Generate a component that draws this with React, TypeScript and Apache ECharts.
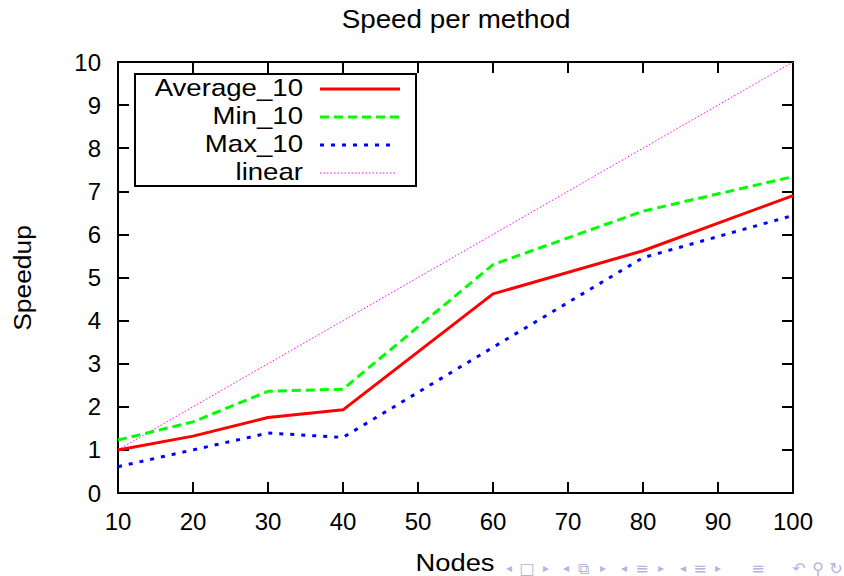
import React, { useEffect, useRef } from "react";
import * as echarts from "echarts";

const nodes = [10, 20, 30, 40, 60, 80, 100];
const average10 = [1.0, 1.32, 1.75, 1.93, 4.62, 5.62, 6.9];
const min10 = [1.23, 1.65, 2.36, 2.41, 5.3, 6.54, 7.34];
const max10 = [0.61, 1.0, 1.39, 1.29, 3.38, 5.46, 6.44];
const linearX = [10, 100];
const linearY = [1, 10];
const seriesNames = ["Average_10", "Min_10", "Max_10", "linear"];
const titleText = "Speed per method";
const xName = "Nodes";
const yName = "Speedup";
const navGlyphs = ["◂", "□", "▸", "◂", "⧉", "▸", "◂", "≡", "▸", "◂", "≡", "▸", "≡", "↶", "⚲", "↻"];

const FONT = "Liberation Sans, Arial, Helvetica, sans-serif";

export default function App() {
  const ref = useRef<HTMLDivElement>(null);
  useEffect(() => {
    if (!ref.current) return;
    const chart = echarts.init(ref.current, null, { renderer: "svg" });
    const pair = (xs: number[], ys: number[]) => xs.map((x, i) => [x, ys[i]]);
    const tick = { show: true, inside: true, length: 11, lineStyle: { color: "#000", width: 2 } };
    const axisLine = { show: true, onZero: false, lineStyle: { color: "#000", width: 2 } };
    const labelStyle = { color: "#000", fontSize: 24, fontFamily: FONT };
    const ly = [89, 117, 145, 173];
    const lx2 = [400, 400, 394, 397];
    const styles = [
      { stroke: "#ff0000", lineWidth: 3 },
      { stroke: "#00ff00", lineWidth: 3, lineDash: [9, 5] },
      { stroke: "#0000ff", lineWidth: 3, lineDash: [4, 7] },
      { stroke: "#ff00ff", lineWidth: 1, lineDash: [1.5, 2] },
    ];
    const legendEls: any[] = [
      { type: "rect", shape: { x: 135, y: 74, width: 281, height: 112 }, style: { fill: "#fff", stroke: "#000", lineWidth: 2 }, z: 100 },
    ];
    seriesNames.forEach((n, i) => {
      legendEls.push({
        type: "text",
        x: 303,
        y: ly[i] - 1,
        scaleX: 1.15,
        style: { text: n, fill: "#000", fontSize: 24, fontFamily: FONT, align: "right", verticalAlign: "middle" },
        z: 101,
      });
      legendEls.push({
        type: "line",
        shape: { x1: 320, y1: ly[i], x2: lx2[i], y2: ly[i] },
        style: { ...styles[i], fill: null },
        z: 101,
      });
    });
    const navX = [509, 527, 546, 566, 583, 603, 624, 642, 661, 683, 700, 718, 758, 799, 818, 836];
    const navEls = navGlyphs.map((s, i) => ({
      type: "text",
      x: navX[i],
      y: 568,
      style: {
        text: s,
        fill: "#b4b4e0",
        fontSize: s === "◂" || s === "▸" ? 12 : 16,
        fontFamily: "DejaVu Sans, sans-serif",
        align: "center",
        verticalAlign: "middle",
      },
    }));
    chart.setOption({
      animation: false,
      backgroundColor: "#fff",
      grid: { left: 118, right: 51, top: 62, bottom: 83 },
      xAxis: [
        {
          type: "value",
          min: 10,
          max: 100,
          interval: 10,
          axisLine,
          axisTick: tick,
          axisLabel: { ...labelStyle, margin: 16 },
          splitLine: { show: false },
        },
        {
          type: "value",
          position: "top",
          min: 10,
          max: 100,
          interval: 10,
          axisLine,
          axisTick: tick,
          axisLabel: { show: false },
          splitLine: { show: false },
        },
      ],
      yAxis: [
        {
          type: "value",
          min: 0,
          max: 10,
          interval: 1,
          axisLine,
          axisTick: tick,
          axisLabel: { ...labelStyle, margin: 17 },
          splitLine: { show: false },
        },
        {
          type: "value",
          position: "right",
          min: 0,
          max: 10,
          interval: 1,
          axisLine,
          axisTick: tick,
          axisLabel: { show: false },
          splitLine: { show: false },
        },
      ],
      series: [
        {
          name: seriesNames[0],
          type: "line",
          data: pair(nodes, average10),
          symbol: "none",
          lineStyle: { color: "#ff0000", width: 3 },
          z: 4,
        },
        {
          name: seriesNames[1],
          type: "line",
          data: pair(nodes, min10),
          symbol: "none",
          lineStyle: { color: "#00ff00", width: 3, type: [9, 5] },
          z: 3,
        },
        {
          name: seriesNames[2],
          type: "line",
          data: pair(nodes, max10),
          symbol: "none",
          lineStyle: { color: "#0000ff", width: 3, type: [4, 7] },
          z: 3,
        },
        {
          name: seriesNames[3],
          type: "line",
          data: pair(linearX, linearY),
          symbol: "none",
          lineStyle: { color: "#ff00ff", width: 1, type: [1.5, 2] },
          z: 2,
        },
      ],
      graphic: [
        {
          type: "text",
          x: 456,
          y: 19,
          scaleX: 1.07,
          style: { text: titleText, fill: "#000", fontSize: 26, fontFamily: FONT, align: "center", verticalAlign: "middle" },
        },
        {
          type: "text",
          x: 22,
          y: 278,
          rotation: Math.PI / 2,
          scaleX: 1.1,
          style: { text: yName, fill: "#000", fontSize: 24, fontFamily: FONT, align: "center", verticalAlign: "middle" },
        },
        {
          type: "text",
          x: 455,
          y: 563,
          scaleX: 1.14,
          style: { text: xName, fill: "#000", fontSize: 24, fontFamily: FONT, align: "center", verticalAlign: "middle" },
        },
        ...legendEls,
        ...navEls,
      ],
    });
    return () => chart.dispose();
  }, []);
  return <div ref={ref} style={{ width: 844, height: 576, position: "absolute", left: 0, top: 0 }} />;
}
